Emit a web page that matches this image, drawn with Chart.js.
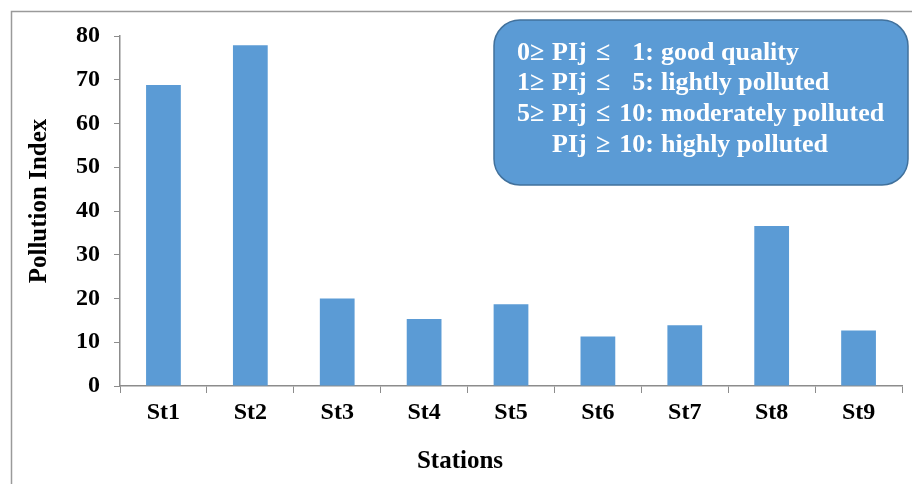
<!DOCTYPE html>
<html>
<head>
<meta charset="utf-8">
<script src="https://cdn.jsdelivr.net/npm/chart.js@4"></script>
<style>
  html, body { margin: 0; padding: 0; background: #ffffff; }
  #wrap { width: 912px; height: 484px; }
</style>
</head>
<body>
<div id="wrap"><canvas id="chart" width="912" height="484"></canvas></div>
<script>
// Stations and their pollution index
const stations = ['St1', 'St2', 'St3', 'St4', 'St5', 'St6', 'St7', 'St8', 'St9'];
const pollutionIndex = [68.8, 77.9, 20.0, 15.3, 18.7, 11.3, 13.9, 36.6, 12.7];

// Axis range and titles
const yMin = 0;
const yMax = 80;
const yStep = 10;
const xTitle = 'Stations';
const yTitle = 'Pollution Index';

// Classification note, one row per class
const classPrefix = ['0\u2265', '1\u2265', '5\u2265', ''];
const classRelation = ['\u2264', '\u2264', '\u2264', '\u2265'];
const classLimit = ['1', '5', '10', '10'];
const classLabel = ['good quality', 'lightly polluted', 'moderately polluted', 'highly polluted'];

const SERIF = '"Liberation Serif", "Times New Roman", serif';
const BAR_BLUE = '#5B9BD5';
const AXIS_GREY = '#8c8c8c';

// Outer frame (top and left edges run off the canvas) and the axis titles
const framePlugin = {
  id: 'frame',
  beforeDraw(chart) {
    const ctx = chart.ctx;
    ctx.save();
    ctx.strokeStyle = '#9a9a9a';
    ctx.lineWidth = 1.5;
    ctx.beginPath();
    ctx.moveTo(11.5, chart.height + 2);
    ctx.lineTo(11.5, 11.5);
    ctx.lineTo(chart.width + 2, 11.5);
    ctx.stroke();

    ctx.fillStyle = '#000000';
    ctx.font = 'bold 25px ' + SERIF;
    ctx.textAlign = 'center';
    ctx.textBaseline = 'middle';
    ctx.fillText(xTitle, 460, 462);

    ctx.translate(40, 201);
    ctx.rotate(-Math.PI / 2);
    ctx.fillText(yTitle, 0, 0);
    ctx.restore();
  }
};

// Rounded note box listing the pollution classes
const classNotePlugin = {
  id: 'classNote',
  afterDraw(chart) {
    const ctx = chart.ctx;
    const x = 494, y = 20, w = 414, h = 165, r = 26;
    ctx.save();
    ctx.beginPath();
    ctx.roundRect(x, y, w, h, r);
    ctx.fillStyle = BAR_BLUE;
    ctx.fill();
    ctx.lineWidth = 1.5;
    ctx.strokeStyle = '#41719C';
    ctx.stroke();

    ctx.fillStyle = '#ffffff';
    ctx.font = 'bold 26px ' + SERIF;
    ctx.textBaseline = 'middle';
    const rowY = [53, 83, 114, 145];
    for (let i = 0; i < classLabel.length; i++) {
      const ty = rowY[i];
      ctx.textAlign = 'left';
      if (classPrefix[i]) ctx.fillText(classPrefix[i], 517, ty);
      ctx.fillText('PIj', 552, ty);
      ctx.fillText(classRelation[i], 596, ty);
      ctx.textAlign = 'right';
      ctx.fillText(classLimit[i] + ':', 654, ty);
      ctx.textAlign = 'left';
      ctx.fillText(classLabel[i], 661, ty);
    }
    ctx.restore();
  }
};

new Chart(document.getElementById('chart'), {
  type: 'bar',
  data: {
    labels: stations,
    datasets: [{
      data: pollutionIndex,
      backgroundColor: BAR_BLUE,
      borderWidth: 0,
      barPercentage: 0.4,
      categoryPercentage: 1.0
    }]
  },
  options: {
    responsive: false,
    animation: false,
    layout: { padding: { top: 36, right: 10, bottom: 0, left: 0 } },
    plugins: {
      legend: { display: false },
      tooltip: { enabled: false }
    },
    scales: {
      x: {
        grid: {
          offset: true,
          drawOnChartArea: false,
          drawTicks: true,
          tickLength: 7,
          color: AXIS_GREY
        },
        border: { color: AXIS_GREY, width: 1.5 },
        ticks: {
          color: '#000000',
          padding: 5,
          font: { family: SERIF, size: 24, weight: 'bold' }
        },
        afterFit(scale) { scale.height = 98; }
      },
      y: {
        min: yMin,
        max: yMax,
        ticks: {
          stepSize: yStep,
          color: '#000000',
          padding: 14,
          font: { family: SERIF, size: 24, weight: 'bold' }
        },
        grid: {
          drawOnChartArea: false,
          drawTicks: true,
          tickLength: 6,
          color: AXIS_GREY
        },
        border: { color: AXIS_GREY, width: 1.5 },
        afterFit(scale) { scale.width = 120; }
      }
    }
  },
  plugins: [framePlugin, classNotePlugin]
});
</script>
</body>
</html>
